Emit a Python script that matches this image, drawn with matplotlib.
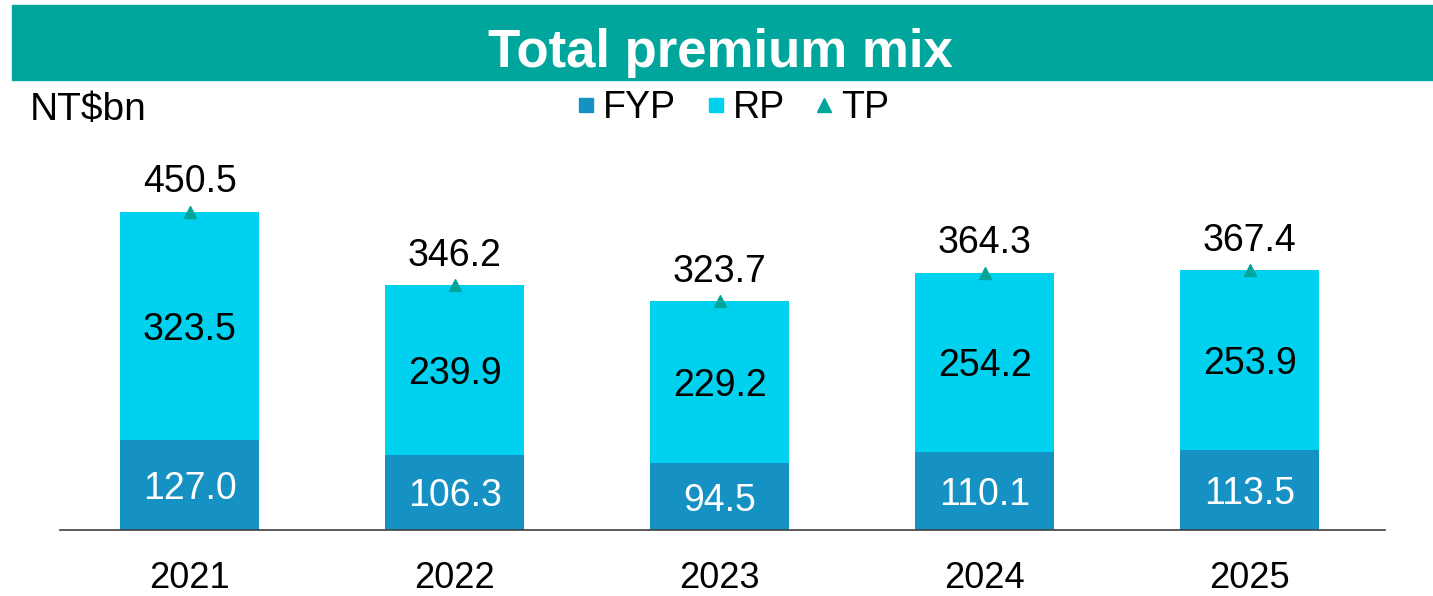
import matplotlib.pyplot as plt
import numpy as np
from matplotlib.lines import Line2D
from matplotlib.patches import Rectangle

plt.rcParams["font.family"] = ["Liberation Sans", "DejaVu Sans"]

years = ["2021", "2022", "2023", "2024", "2025"]
fyp = [127.0, 106.3, 94.5, 110.1, 113.5]
rp = [323.5, 239.9, 229.2, 254.2, 253.9]
tp = [450.5, 346.2, 323.7, 364.3, 367.4]

c_fyp = "#1591C4"
c_rp = "#00D1EE"
c_tp = "#00A59B"

fig = plt.figure(figsize=(14.33, 5.96), dpi=100)

# title banner
fig.patches.append(Rectangle((12 / 1433, 1 - 80 / 596), 1 - 12 / 1433, 75 / 596,
                             transform=fig.transFigure, color=c_tp, zorder=0))
fig.text(0.503, 1 - 47 / 596, "Total premium mix", color="white", fontsize=38,
         fontweight="bold", ha="center", va="center_baseline")

ax = fig.add_axes([60 / 1433, 66 / 596, 1325 / 1433, 390 / 596])
x = np.arange(len(years))
width = 0.525

ax.bar(x, fyp, width, color=c_fyp, label="FYP")
ax.bar(x, rp, width, bottom=fyp, color=c_rp, label="RP")
ax.plot(x, tp, linestyle="none", marker="^", markersize=9, color=c_tp, label="TP")

for i in range(len(years)):
    ax.text(x[i], fyp[i] / 2, f"{fyp[i]:.1f}", color="white", fontsize=27,
            ha="center", va="center_baseline")
    ax.text(x[i], fyp[i] + rp[i] / 2, f"{rp[i]:.1f}", color="black", fontsize=27,
            ha="center", va="center_baseline")
    ax.annotate(f"{tp[i]:.1f}", (x[i], tp[i]), xytext=(0, 24), textcoords="offset points",
                fontsize=27, ha="center", va="center_baseline")

ax.set_xlim(-0.49, 4.51)
ax.set_ylim(0, 552)
ax.set_xticks(x)
ax.set_xticklabels(years, fontsize=26)
ax.tick_params(axis="x", length=0, pad=22)
ax.set_yticks([])
for s in ["top", "right", "left"]:
    ax.spines[s].set_visible(False)
ax.spines["bottom"].set_color("#404040")
ax.spines["bottom"].set_linewidth(1.2)

fig.text(30 / 1433, 1 - 106 / 596, "NT$bn", fontsize=28, ha="left", va="center_baseline")

handles = [
    Line2D([], [], linestyle="none", marker="s", markersize=10, color=c_fyp),
    Line2D([], [], linestyle="none", marker="s", markersize=10, color=c_rp),
    Line2D([], [], linestyle="none", marker="^", markersize=10, color=c_tp),
]
fig.legend(handles, ["FYP", "RP", "TP"], loc="center", bbox_to_anchor=(732 / 1433, 1 - 108 / 596),
           ncol=3, frameon=False, fontsize=27, handlelength=0.6, handletextpad=0.15,
           columnspacing=0.75)

fig.savefig("out.png", dpi=100)
